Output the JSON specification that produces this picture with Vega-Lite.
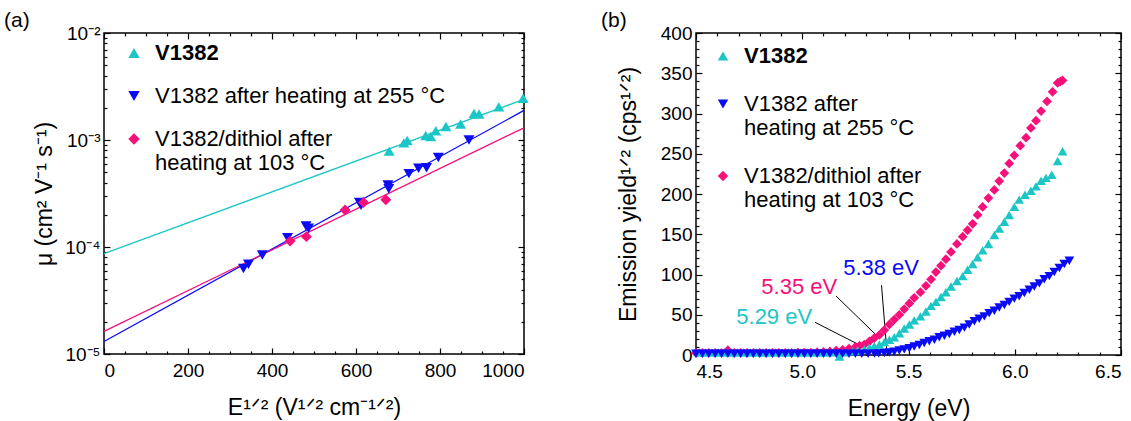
{
  "$schema": "https://vega.github.io/schema/vega-lite/v6.json",
  "padding": {"left": 3, "top": 9, "right": 5, "bottom": 0},
  "spacing": 70,
  "resolve": {"scale": {"color": "independent", "shape": "independent", "stroke": "independent", "fill": "independent"}, "legend": {"color": "independent", "shape": "independent"}},
  "config": {
    "font": "Liberation Sans",
    "lineBreak": "\n",
    "view": {"stroke": "black", "strokeWidth": 1.5},
    "axis": {"grid": false, "domain": false, "tickColor": "black", "labelColor": "black", "titleColor": "black", "labelFont": "Liberation Sans", "titleFont": "Liberation Sans", "labelFontSize": 19, "titleFontSize": 23, "titleFontWeight": "normal", "tickWidth": 1.2},
    "legend": {"labelFont": "Liberation Sans", "labelColor": "black"},
    "title": {"font": "Liberation Sans", "fontWeight": "normal", "fontSize": 21, "color": "black"}
  },
  "datasets": {
    "mob": [
      {"E": 679, "mu": 7.87e-4, "s": "a"}, {"E": 714, "mu": 9.4e-4, "s": "a"}, {"E": 722, "mu": 9.9e-4, "s": "a"},
      {"E": 766, "mu": 1.10e-3, "s": "a"}, {"E": 778, "mu": 1.08e-3, "s": "a"}, {"E": 790, "mu": 1.22e-3, "s": "a"},
      {"E": 814, "mu": 1.34e-3, "s": "a"}, {"E": 849, "mu": 1.41e-3, "s": "a"}, {"E": 881, "mu": 1.77e-3, "s": "a"},
      {"E": 893, "mu": 1.75e-3, "s": "a"}, {"E": 940, "mu": 2.04e-3, "s": "a"}, {"E": 998, "mu": 2.46e-3, "s": "a"},
      {"E": 332, "mu": 6.3e-5, "s": "b"}, {"E": 344, "mu": 6.9e-5, "s": "b"}, {"E": 377, "mu": 8.4e-5, "s": "b"},
      {"E": 437, "mu": 1.22e-4, "s": "b"}, {"E": 481, "mu": 1.57e-4, "s": "b"}, {"E": 487, "mu": 1.5e-4, "s": "b"},
      {"E": 608, "mu": 2.6e-4, "s": "b"}, {"E": 612, "mu": 2.45e-4, "s": "b"}, {"E": 676, "mu": 3.8e-4, "s": "b"},
      {"E": 678, "mu": 3.5e-4, "s": "b"}, {"E": 726, "mu": 4.85e-4, "s": "b"}, {"E": 749, "mu": 5.44e-4, "s": "b"},
      {"E": 768, "mu": 5.51e-4, "s": "b"}, {"E": 796, "mu": 6.85e-4, "s": "b"}, {"E": 869, "mu": 1.0e-3, "s": "b"},
      {"E": 443, "mu": 1.135e-4, "s": "c"}, {"E": 482, "mu": 1.25e-4, "s": "c"}, {"E": 574, "mu": 2.22e-4, "s": "c"},
      {"E": 618, "mu": 2.61e-4, "s": "c"}, {"E": 671, "mu": 2.77e-4, "s": "c"}
    ],
    "fits": [
      {"E": 0, "mu": 8.67e-5, "s": "a"}, {"E": 1000, "mu": 2.40e-3, "s": "a"},
      {"E": 0, "mu": 1.31e-5, "s": "b"}, {"E": 1000, "mu": 1.89e-3, "s": "b"},
      {"E": 0, "mu": 1.63e-5, "s": "c"}, {"E": 1000, "mu": 1.30e-3, "s": "c"}
    ],
    "pys": [
      {"en": 4.50, "v": 2.5, "s": "c"}, {"en": 4.53, "v": 2.5, "s": "c"}, {"en": 4.56, "v": 2.5, "s": "c"}, {"en": 4.59, "v": 2.5, "s": "c"},
      {"en": 4.62, "v": 2.5, "s": "c"}, {"en": 4.65, "v": 6, "s": "c"}, {"en": 4.68, "v": 2.5, "s": "c"}, {"en": 4.71, "v": 2.5, "s": "c"},
      {"en": 4.74, "v": 2.5, "s": "c"}, {"en": 4.77, "v": 2.5, "s": "c"}, {"en": 4.80, "v": 2.5, "s": "c"}, {"en": 4.83, "v": 2.5, "s": "c"},
      {"en": 4.86, "v": 2.5, "s": "c"}, {"en": 4.89, "v": 2.5, "s": "c"}, {"en": 4.92, "v": 2.5, "s": "c"}, {"en": 4.95, "v": 2.5, "s": "c"},
      {"en": 4.98, "v": 3, "s": "c"}, {"en": 5.01, "v": 3, "s": "c"}, {"en": 5.04, "v": 3, "s": "c"}, {"en": 5.07, "v": 3.5, "s": "c"},
      {"en": 5.10, "v": 4, "s": "c"}, {"en": 5.13, "v": 4.5, "s": "c"}, {"en": 5.16, "v": 5.5, "s": "c"}, {"en": 5.19, "v": 6.5, "s": "c"},
      {"en": 5.22, "v": 8, "s": "c"}, {"en": 5.25, "v": 10, "s": "c"}, {"en": 5.27, "v": 11.5, "s": "c"}, {"en": 5.292, "v": 13, "s": "c"},
      {"en": 5.316, "v": 17, "s": "c"}, {"en": 5.339, "v": 21, "s": "c"}, {"en": 5.363, "v": 25, "s": "c"}, {"en": 5.386, "v": 31, "s": "c"},
      {"en": 5.410, "v": 38, "s": "c"}, {"en": 5.433, "v": 44, "s": "c"}, {"en": 5.457, "v": 50, "s": "c"}, {"en": 5.480, "v": 57, "s": "c"},
      {"en": 5.504, "v": 64, "s": "c"}, {"en": 5.527, "v": 71, "s": "c"}, {"en": 5.556, "v": 78, "s": "c"}, {"en": 5.582, "v": 86, "s": "c"},
      {"en": 5.606, "v": 94, "s": "c"}, {"en": 5.629, "v": 103, "s": "c"}, {"en": 5.653, "v": 111, "s": "c"}, {"en": 5.676, "v": 119, "s": "c"},
      {"en": 5.700, "v": 128, "s": "c"}, {"en": 5.728, "v": 138, "s": "c"}, {"en": 5.755, "v": 147, "s": "c"}, {"en": 5.778, "v": 155, "s": "c"},
      {"en": 5.802, "v": 163, "s": "c"}, {"en": 5.825, "v": 174, "s": "c"}, {"en": 5.849, "v": 184, "s": "c"}, {"en": 5.876, "v": 195, "s": "c"},
      {"en": 5.904, "v": 205, "s": "c"}, {"en": 5.927, "v": 216, "s": "c"}, {"en": 5.951, "v": 226, "s": "c"}, {"en": 5.974, "v": 238, "s": "c"},
      {"en": 5.998, "v": 248, "s": "c"}, {"en": 6.026, "v": 260, "s": "c"}, {"en": 6.053, "v": 270, "s": "c"}, {"en": 6.076, "v": 282, "s": "c"},
      {"en": 6.100, "v": 291, "s": "c"}, {"en": 6.124, "v": 303, "s": "c"}, {"en": 6.152, "v": 315, "s": "c"}, {"en": 6.178, "v": 327, "s": "c"},
      {"en": 6.202, "v": 338, "s": "c"}, {"en": 6.215, "v": 340, "s": "c"}, {"en": 6.225, "v": 341, "s": "c"},

      {"en": 4.515, "v": 3, "s": "a"}, {"en": 4.545, "v": 3, "s": "a"}, {"en": 4.575, "v": 3, "s": "a"}, {"en": 4.605, "v": 3, "s": "a"},
      {"en": 4.635, "v": 3, "s": "a"}, {"en": 4.665, "v": 3, "s": "a"}, {"en": 4.695, "v": 3, "s": "a"}, {"en": 4.725, "v": 3, "s": "a"},
      {"en": 4.755, "v": 3, "s": "a"}, {"en": 4.785, "v": 3, "s": "a"}, {"en": 4.815, "v": 3, "s": "a"}, {"en": 4.845, "v": 3, "s": "a"},
      {"en": 4.875, "v": 3, "s": "a"}, {"en": 4.905, "v": 3, "s": "a"}, {"en": 4.935, "v": 3, "s": "a"}, {"en": 4.965, "v": 3, "s": "a"},
      {"en": 4.995, "v": 3, "s": "a"}, {"en": 5.025, "v": 3, "s": "a"}, {"en": 5.055, "v": 3, "s": "a"}, {"en": 5.085, "v": 3, "s": "a"},
      {"en": 5.115, "v": 3, "s": "a"}, {"en": 5.145, "v": 3.5, "s": "a"}, {"en": 5.175, "v": -2, "s": "a"}, {"en": 5.205, "v": 3.5, "s": "a"},
      {"en": 5.235, "v": 4.5, "s": "a"}, {"en": 5.26, "v": 5.5, "s": "a"}, {"en": 5.292, "v": 7, "s": "a"}, {"en": 5.316, "v": 9, "s": "a"},
      {"en": 5.339, "v": 11, "s": "a"}, {"en": 5.363, "v": 13, "s": "a"}, {"en": 5.386, "v": 16, "s": "a"}, {"en": 5.41, "v": 19, "s": "a"},
      {"en": 5.433, "v": 22, "s": "a"}, {"en": 5.457, "v": 27, "s": "a"}, {"en": 5.480, "v": 33, "s": "a"}, {"en": 5.504, "v": 38, "s": "a"},
      {"en": 5.527, "v": 43, "s": "a"}, {"en": 5.556, "v": 48, "s": "a"}, {"en": 5.582, "v": 54, "s": "a"}, {"en": 5.606, "v": 61, "s": "a"},
      {"en": 5.629, "v": 66, "s": "a"}, {"en": 5.653, "v": 72, "s": "a"}, {"en": 5.676, "v": 78, "s": "a"}, {"en": 5.700, "v": 85, "s": "a"},
      {"en": 5.728, "v": 92, "s": "a"}, {"en": 5.755, "v": 98, "s": "a"}, {"en": 5.778, "v": 106, "s": "a"}, {"en": 5.802, "v": 113, "s": "a"},
      {"en": 5.825, "v": 121.5, "s": "a"}, {"en": 5.849, "v": 130, "s": "a"}, {"en": 5.876, "v": 138, "s": "a"}, {"en": 5.904, "v": 149, "s": "a"},
      {"en": 5.927, "v": 157, "s": "a"}, {"en": 5.951, "v": 165.5, "s": "a"}, {"en": 5.974, "v": 174, "s": "a"}, {"en": 5.998, "v": 184, "s": "a"},
      {"en": 6.021, "v": 193, "s": "a"}, {"en": 6.048, "v": 199, "s": "a"}, {"en": 6.076, "v": 204, "s": "a"}, {"en": 6.100, "v": 209.5, "s": "a"},
      {"en": 6.124, "v": 216.5, "s": "a"}, {"en": 6.147, "v": 220, "s": "a"}, {"en": 6.174, "v": 224, "s": "a"}, {"en": 6.202, "v": 241, "s": "a"},
      {"en": 6.225, "v": 253, "s": "a"},

      {"en": 4.50, "v": 1.5, "s": "b"}, {"en": 4.53, "v": 1.5, "s": "b"}, {"en": 4.56, "v": 1.5, "s": "b"}, {"en": 4.59, "v": 1.5, "s": "b"},
      {"en": 4.62, "v": 1.5, "s": "b"}, {"en": 4.65, "v": 1.5, "s": "b"}, {"en": 4.68, "v": 1.5, "s": "b"}, {"en": 4.71, "v": 1.5, "s": "b"},
      {"en": 4.74, "v": 1.5, "s": "b"}, {"en": 4.77, "v": 1.5, "s": "b"}, {"en": 4.80, "v": 1.5, "s": "b"}, {"en": 4.83, "v": 1.5, "s": "b"},
      {"en": 4.86, "v": 1.5, "s": "b"}, {"en": 4.89, "v": 1.5, "s": "b"}, {"en": 4.92, "v": 1.5, "s": "b"}, {"en": 4.95, "v": 1.5, "s": "b"},
      {"en": 4.98, "v": 1.5, "s": "b"}, {"en": 5.01, "v": 1.5, "s": "b"}, {"en": 5.04, "v": 1.5, "s": "b"}, {"en": 5.07, "v": 1.5, "s": "b"},
      {"en": 5.10, "v": 1.5, "s": "b"}, {"en": 5.13, "v": 1.5, "s": "b"}, {"en": 5.16, "v": 1.5, "s": "b"}, {"en": 5.19, "v": 1.5, "s": "b"},
      {"en": 5.22, "v": 1.5, "s": "b"}, {"en": 5.25, "v": 1.5, "s": "b"}, {"en": 5.28, "v": 1.5, "s": "b"}, {"en": 5.31, "v": 1.5, "s": "b"},
      {"en": 5.34, "v": 1.7, "s": "b"}, {"en": 5.36, "v": 2, "s": "b"}, {"en": 5.386, "v": 2.5, "s": "b"}, {"en": 5.41, "v": 3, "s": "b"},
      {"en": 5.433, "v": 4, "s": "b"}, {"en": 5.457, "v": 5.5, "s": "b"}, {"en": 5.48, "v": 7, "s": "b"}, {"en": 5.504, "v": 8.5, "s": "b"},
      {"en": 5.527, "v": 10.5, "s": "b"}, {"en": 5.551, "v": 12.5, "s": "b"}, {"en": 5.574, "v": 15, "s": "b"}, {"en": 5.598, "v": 17, "s": "b"},
      {"en": 5.622, "v": 19, "s": "b"}, {"en": 5.645, "v": 22, "s": "b"}, {"en": 5.669, "v": 24, "s": "b"}, {"en": 5.692, "v": 26, "s": "b"},
      {"en": 5.716, "v": 29, "s": "b"}, {"en": 5.739, "v": 31, "s": "b"}, {"en": 5.763, "v": 34, "s": "b"}, {"en": 5.786, "v": 38, "s": "b"},
      {"en": 5.810, "v": 42, "s": "b"}, {"en": 5.833, "v": 45, "s": "b"}, {"en": 5.857, "v": 48, "s": "b"}, {"en": 5.880, "v": 52, "s": "b"},
      {"en": 5.904, "v": 55, "s": "b"}, {"en": 5.927, "v": 59, "s": "b"}, {"en": 5.951, "v": 62, "s": "b"}, {"en": 5.974, "v": 66, "s": "b"},
      {"en": 5.998, "v": 70, "s": "b"}, {"en": 6.021, "v": 73, "s": "b"}, {"en": 6.045, "v": 77, "s": "b"}, {"en": 6.069, "v": 81, "s": "b"},
      {"en": 6.092, "v": 85, "s": "b"}, {"en": 6.116, "v": 89, "s": "b"}, {"en": 6.139, "v": 94, "s": "b"}, {"en": 6.163, "v": 98, "s": "b"},
      {"en": 6.186, "v": 103, "s": "b"}, {"en": 6.210, "v": 108, "s": "b"}, {"en": 6.233, "v": 113, "s": "b"}, {"en": 6.257, "v": 117, "s": "b"}
    ],
    "leaders": [
      {"e1": 5.060, "v1": 40.6, "e2": 5.300, "v2": 8.4},
      {"e1": 5.159, "v1": 73.3, "e2": 5.355, "v2": 23.0},
      {"e1": 5.373, "v1": 86.7, "e2": 5.399, "v2": 2.1}
    ],
    "labels": [
      {"en": 4.868, "v": 47, "t": "5.29 eV"},
      {"en": 4.986, "v": 85, "t": "5.35 eV"},
      {"en": 5.371, "v": 108, "t": "5.38 eV"}
    ]
  },
  "hconcat": [
    {
      "width": 420,
      "height": 321,
      "title": {"text": "(a)", "anchor": "start", "frame": "group", "dx": -100, "offset": -7},
      "resolve": {"axis": {"x": "independent", "y": "independent"}},
      "layer": [
        {
          "data": {"name": "fits"},
          "mark": {"type": "line", "strokeWidth": 1.3},
          "encoding": {
            "x": {"field": "E", "type": "quantitative", "scale": {"domain": [0, 1000], "nice": false, "zero": false},
                  "axis": {"orient": "top", "values": [0, 200, 400, 600, 800, 1000], "labels": false, "title": null, "tickSize": -6}},
            "y": {"field": "mu", "type": "quantitative", "scale": {"type": "log", "domain": [1e-5, 1e-2], "nice": false},
                  "axis": {"orient": "right", "values": [1e-5, 1e-4, 1e-3, 1e-2], "labels": false, "title": null, "tickSize": -6}},
            "detail": {"field": "s"},
            "stroke": {"field": "s", "type": "nominal", "scale": {"range": ["#1CC6C6", "#0A0AF5", "#F5107A"]}, "legend": null}
          }
        },
        {
          "data": {"name": "fits"},
          "mark": {"type": "point", "opacity": 0},
          "encoding": {
            "x": {"field": "E", "type": "quantitative", "scale": {"domain": [0, 1000], "nice": false, "zero": false},
                  "axis": {"orient": "bottom", "values": [50, 100, 150, 250, 300, 350, 450, 500, 550, 650, 700, 750, 850, 900, 950], "labels": false, "title": null, "tickSize": -3}},
            "y": {"field": "mu", "type": "quantitative", "scale": {"type": "log", "domain": [1e-5, 1e-2], "nice": false},
                  "axis": {"orient": "left", "values": [2e-5, 3e-5, 4e-5, 5e-5, 6e-5, 7e-5, 8e-5, 9e-5, 2e-4, 3e-4, 4e-4, 5e-4, 6e-4, 7e-4, 8e-4, 9e-4, 2e-3, 3e-3, 4e-3, 5e-3, 6e-3, 7e-3, 8e-3, 9e-3], "labels": false, "title": null, "tickSize": -3}}
          }
        },
        {
          "data": {"name": "fits"},
          "mark": {"type": "point", "opacity": 0},
          "encoding": {
            "x": {"field": "E", "type": "quantitative", "scale": {"domain": [0, 1000], "nice": false, "zero": false},
                  "axis": {"orient": "top", "values": [50, 100, 150, 250, 300, 350, 450, 500, 550, 650, 700, 750, 850, 900, 950], "labels": false, "title": null, "tickSize": -3}},
            "y": {"field": "mu", "type": "quantitative", "scale": {"type": "log", "domain": [1e-5, 1e-2], "nice": false},
                  "axis": {"orient": "right", "values": [2e-5, 3e-5, 4e-5, 5e-5, 6e-5, 7e-5, 8e-5, 9e-5, 2e-4, 3e-4, 4e-4, 5e-4, 6e-4, 7e-4, 8e-4, 9e-4, 2e-3, 3e-3, 4e-3, 5e-3, 6e-3, 7e-3, 8e-3, 9e-3], "labels": false, "title": null, "tickSize": -3}}
          }
        },
        {
          "data": {"name": "mob"},
          "mark": {"type": "point", "filled": true, "opacity": 1, "size": 120},
          "encoding": {
            "x": {"field": "E", "type": "quantitative", "scale": {"domain": [0, 1000], "nice": false, "zero": false},
                  "axis": {"orient": "bottom", "values": [0, 200, 400, 600, 800, 1000], "format": "d", "title": "E¹ᐟ² (V¹ᐟ² cm⁻¹ᐟ²)", "tickSize": -6, "labelPadding": 13, "titlePadding": 16}},
            "y": {"field": "mu", "type": "quantitative", "scale": {"type": "log", "domain": [1e-5, 1e-2], "nice": false},
                  "axis": {"orient": "left", "values": [1e-5, 1e-4, 1e-3, 1e-2], "tickSize": -6, "labelPadding": 10, "title": "μ (cm² V⁻¹ s⁻¹)", "titlePadding": 8,
                           "labelExpr": "datum.value < 5e-5 ? '10⁻⁵' : datum.value < 5e-4 ? '10⁻⁴' : datum.value < 5e-3 ? '10⁻³' : '10⁻²'"}},
            "color": {"field": "s", "type": "nominal", "scale": {"domain": ["a", "b", "c"], "range": ["#1CC6C6", "#0A0AF5", "#F5107A"]},
                      "legend": {"orient": "none", "legendX": 19, "legendY": 9, "padding": 0, "title": null, "labelFontSize": 22, "symbolSize": 130, "labelOffset": 10, "rowPadding": 21, "labelLimit": 500,
                                 "labelFontWeight": {"expr": "datum.label == 'a' ? 'bold' : 'normal'"},
                                 "labelExpr": "datum.label == 'a' ? 'V1382' : datum.label == 'b' ? 'V1382 after heating at 255 °C' : 'V1382/dithiol after\\nheating at 103 °C'",
                                 "encode": {"labels": {"lineBreak": {"value": "\n"}, "lineHeight": {"value": 26}}}}},
            "shape": {"field": "s", "type": "nominal", "scale": {"domain": ["a", "b", "c"], "range": ["triangle-up", "triangle-down", "diamond"]}}
          }
        }
      ]
    },
    {
      "width": 425,
      "height": 322,
      "title": {"text": "(b)", "anchor": "start", "frame": "group", "dx": -95, "offset": -7},
      "resolve": {"axis": {"x": "independent", "y": "independent"}},
      "layer": [
        {
          "data": {"name": "leaders"},
          "mark": {"type": "rule", "color": "black", "strokeWidth": 1},
          "encoding": {
            "x": {"field": "e1", "type": "quantitative", "scale": {"domain": [4.5, 6.5], "nice": false, "zero": false},
                  "axis": {"orient": "top", "values": [4.5, 5, 5.5, 6, 6.5], "labels": false, "title": null, "tickSize": -6}},
            "y": {"field": "v1", "type": "quantitative", "scale": {"domain": [0, 400], "nice": false, "zero": false},
                  "axis": {"orient": "right", "values": [0, 50, 100, 150, 200, 250, 300, 350, 400], "labels": false, "title": null, "tickSize": -6}},
            "x2": {"field": "e2"},
            "y2": {"field": "v2"}
          }
        },
        {
          "data": {"name": "leaders"},
          "mark": {"type": "point", "opacity": 0},
          "encoding": {
            "x": {"field": "e1", "type": "quantitative", "scale": {"domain": [4.5, 6.5], "nice": false, "zero": false},
                  "axis": {"orient": "bottom", "values": [4.6, 4.7, 4.8, 4.9, 5.1, 5.2, 5.3, 5.4, 5.6, 5.7, 5.8, 5.9, 6.1, 6.2, 6.3, 6.4], "labels": false, "title": null, "tickSize": -3}},
            "y": {"field": "v1", "type": "quantitative", "scale": {"domain": [0, 400], "nice": false, "zero": false},
                  "axis": {"orient": "left", "values": [10, 20, 30, 40, 60, 70, 80, 90, 110, 120, 130, 140, 160, 170, 180, 190, 210, 220, 230, 240, 260, 270, 280, 290, 310, 320, 330, 340, 360, 370, 380, 390], "labels": false, "title": null, "tickSize": -3}}
          }
        },
        {
          "data": {"name": "leaders"},
          "mark": {"type": "point", "opacity": 0},
          "encoding": {
            "x": {"field": "e1", "type": "quantitative", "scale": {"domain": [4.5, 6.5], "nice": false, "zero": false},
                  "axis": {"orient": "top", "values": [4.6, 4.7, 4.8, 4.9, 5.1, 5.2, 5.3, 5.4, 5.6, 5.7, 5.8, 5.9, 6.1, 6.2, 6.3, 6.4], "labels": false, "title": null, "tickSize": -3}},
            "y": {"field": "v1", "type": "quantitative", "scale": {"domain": [0, 400], "nice": false, "zero": false},
                  "axis": {"orient": "right", "values": [10, 20, 30, 40, 60, 70, 80, 90, 110, 120, 130, 140, 160, 170, 180, 190, 210, 220, 230, 240, 260, 270, 280, 290, 310, 320, 330, 340, 360, 370, 380, 390], "labels": false, "title": null, "tickSize": -3}}
          }
        },
        {
          "data": {"name": "labels"},
          "mark": {"type": "text", "fontSize": 22, "font": "Liberation Sans"},
          "encoding": {
            "x": {"field": "en", "type": "quantitative", "scale": {"domain": [4.5, 6.5], "nice": false, "zero": false}, "axis": null},
            "y": {"field": "v", "type": "quantitative", "scale": {"domain": [0, 400], "nice": false, "zero": false}, "axis": null},
            "text": {"field": "t"},
            "fill": {"field": "t", "type": "nominal", "scale": {"range": ["#1CC6C6", "#F5107A", "#0A0AF5"]}, "legend": null}
          }
        },
        {
          "data": {"name": "pys"},
          "mark": {"type": "point", "filled": true, "opacity": 1, "size": 95},
          "encoding": {
            "x": {"field": "en", "type": "quantitative", "scale": {"domain": [4.5, 6.5], "nice": false, "zero": false},
                  "axis": {"orient": "bottom", "values": [4.5, 5, 5.5, 6, 6.5], "format": ".1f", "title": "Energy (eV)", "tickSize": -6, "labelPadding": 13, "titlePadding": 16}},
            "y": {"field": "v", "type": "quantitative", "scale": {"domain": [0, 400], "nice": false, "zero": false},
                  "axis": {"orient": "left", "values": [0, 50, 100, 150, 200, 250, 300, 350, 400], "tickSize": -6, "labelPadding": 10, "title": "Emission yield¹ᐟ² (cps¹ᐟ²)", "titlePadding": 20}},
            "color": {"field": "s", "type": "nominal", "scale": {"domain": ["a", "b", "c"], "range": ["#1CC6C6", "#0A0AF5", "#F5107A"]},
                      "legend": {"orient": "none", "legendX": 16, "legendY": 12, "padding": 0, "title": null, "labelFontSize": 22, "symbolSize": 110, "labelOffset": 10, "rowPadding": 26, "labelLimit": 500,
                                 "labelFontWeight": {"expr": "datum.label == 'a' ? 'bold' : 'normal'"},
                                 "labelExpr": "datum.label == 'a' ? 'V1382' : datum.label == 'b' ? 'V1382 after\\nheating at 255 °C' : 'V1382/dithiol after\\nheating at 103 °C'",
                                 "encode": {"labels": {"lineBreak": {"value": "\n"}, "lineHeight": {"value": 25}}}}},
            "shape": {"field": "s", "type": "nominal", "scale": {"domain": ["a", "b", "c"], "range": ["triangle-up", "triangle-down", "diamond"]}}
          }
        }
      ]
    }
  ]
}
